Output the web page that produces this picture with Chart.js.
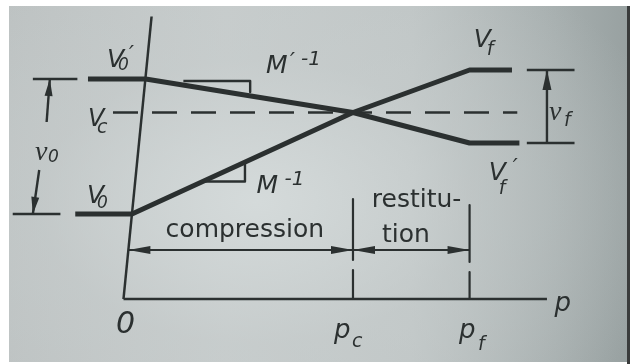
<!DOCTYPE html>
<html>
<head>
<meta charset="utf-8">
<script src="https://cdn.jsdelivr.net/npm/chart.js@4/dist/chart.umd.min.js"></script>
<style>
  html, body { margin: 0; padding: 0; background: #fff; }
  #wrap { position: relative; width: 630px; height: 364px; overflow: hidden; }
  #paper {
    position: absolute; left: 9px; top: 6px; width: 619px; height: 356px;
    background:
      radial-gradient(ellipse 70% 80% at 40% 55%, rgba(214,220,220,0.9) 0%, rgba(200,206,206,0.5) 50%, rgba(160,168,168,0) 100%),
      linear-gradient(90deg, #bcc1c1 0%, #c6cbcb 35%, #bfc5c5 65%, #a7afaf 88%, #98a1a1 100%);
  }
  #edge { position: absolute; left: 627px; top: 6px; width: 3px; height: 358px; background: #3a3c3c; }
  canvas { position: absolute; left: 0; top: 0; }
</style>
</head>
<body>
<div id="wrap">
  <div id="paper"></div>
  <div id="edge"></div>
  <canvas id="chart" width="630" height="364"></canvas>
</div>
<script>
// impulse p along x, velocities along y
const P_C = 2.03;   // end of compression
const P_F = 3.13;   // end of restitution

const V0 = 1.0, V0P = 3.70, VC = 3.03, VF = 3.88, VFP = 2.42;

// body V : V0 -> Vc -> Vf
const pV  = [-0.59, -0.055, P_C, P_F, 3.53];
const vV  = [V0, V0, VC, VF, VF];
// body V' : V0' -> Vc -> Vf'
const pVP = [-0.47, 0.074, P_C, P_F, 3.60];
const vVP = [V0P, V0P, VC, VFP, VFP];

// dashed Vc level
const pVc = [-0.234, 3.58];

// axes (the vertical one leans in the figure)
const axisP = [0.13, -0.135];
const axisV = [4.95, -0.70];
const pAxisEnd = 3.86;

// compression / restitution arrows
const ARROW_V = 0.28;
const ARROW_START = -0.089;
const pcTick = [[1.30, 0.08], [-0.12, -0.70]];
const pfTick = [[1.18, 0.04], [-0.16, -0.70]];

// slope triangles M'^-1 and M^-1
const triTopP = [0.43, 1.06, 1.06];
const triTopV = [3.66, 3.66, 3.44];
const triLowP = [0.618, 1.011, 1.011];
const triLowV = [1.65, 1.65, 2.04];

// v0 dimension (left) and vf dimension (right)
const dim0P = [-0.83, -0.86, -0.93, -0.99];
const dim0V = [V0P, 2.84, 1.88, V0];
const dim0TickTop = [-0.99, -0.57];
const dim0TickLow = [-1.18, -0.73];
const dimFP = 3.86;
const dimFTick = [3.67, 4.12];

const ink = '#2b3030';

function seg(xs, ys, w, dash) {
  return {
    data: xs.map((x, i) => ({ x: x, y: ys[i] })),
    showLine: true,
    borderColor: ink,
    borderWidth: w,
    borderDash: dash || [],
    pointRadius: 0,
    fill: false,
    tension: 0,
    borderCapStyle: 'butt',
    borderJoinStyle: 'round'
  };
}

const datasets = [
  seg(pV, vV, 5),
  seg(pVP, vVP, 5),
  seg(pVc, [VC, VC], 2.5, [25, 14]),
  seg(axisP, axisV, 2.5),
  seg([axisP[1], pAxisEnd], [axisV[1], axisV[1]], 2.5),
  seg([ARROW_START, P_C], [ARROW_V, ARROW_V], 2.2),
  seg([P_C, P_F], [ARROW_V, ARROW_V], 2.2),
  seg([P_C, P_C], pcTick[0], 2.2),
  seg([P_C, P_C], pcTick[1], 2.2),
  seg([P_F, P_F], pfTick[0], 2.2),
  seg([P_F, P_F], pfTick[1], 2.2),
  seg(triTopP, triTopV, 2.4),
  seg(triLowP, triLowV, 2.4),
  seg(dim0P.slice(0, 2), dim0V.slice(0, 2), 2.4),
  seg(dim0P.slice(2), dim0V.slice(2), 2.4),
  seg(dim0TickTop, [V0P, V0P], 2.4),
  seg(dim0TickLow, [V0, V0], 2.4),
  seg([dimFP, dimFP], [VFP, VF], 2.4),
  seg(dimFTick, [VF, VF], 2.4),
  seg(dimFTick, [VFP, VFP], 2.4)
];

// arrow heads: [tail p, tail v, tip p, tip v, length, half width]
const heads = [
  [P_C, ARROW_V, ARROW_START, ARROW_V, 22, 4],
  [ARROW_START, ARROW_V, P_C, ARROW_V, 22, 4],
  [P_F, ARROW_V, P_C, ARROW_V, 22, 4],
  [P_C, ARROW_V, P_F, ARROW_V, 22, 4],
  [dim0P[1], dim0V[1], dim0P[0], dim0V[0], 17, 4],
  [dim0P[2], dim0V[2], dim0P[3], dim0V[3], 17, 4],
  [dimFP, VFP, dimFP, VF, 20, 4.5]
];

const SANS = '"DejaVu Sans"';
const SERIF = '"Liberation Serif"';
// each part: [text, size, dx, dy, family]
const labels = [
  { p: -0.29, v: 3.94, parts: [['V', 25, 0, 0], ['0', 17, 11, 3], ['\u2032', 22, 22, -6]] },
  { p: -0.47, v: 2.76, parts: [['V', 24, 0, 0], ['c', 19, 9, 7]] },
  { p: -0.48, v: 1.22, parts: [['V', 25, 0, 0], ['0', 17, 10, 5]] },
  { p: 3.17, v: 4.34, parts: [['V', 25, 0, 0], ['f', 19, 13, 8]] },
  { p: 3.31, v: 1.68, parts: [['V', 25, 0, 0], ['f', 19, 10, 14], ['\u2032', 22, 24, -6]] },
  { p: 1.21, v: 3.82, parts: [['M', 25, 0, 0], ['\u2032', 22, 24, -5], ['-1', 20, 35, -8]] },
  { p: 1.12, v: 1.42, parts: [['M', 25, 0, 0], ['-1', 20, 28, -8]] },
  { p: -0.97, v: 2.08, parts: [['v', 28, 0, 0, SERIF], ['0', 17, 13, 2]] },
  { p: 3.88, v: 2.88, parts: [['v', 28, 0, 0, SERIF], ['f', 19, 15, 6]] },
  { p: -0.13, v: -1.38, parts: [['0', 30, -8, 0]] },
  { p: 1.85, v: -1.48, parts: [['p', 26, 0, 0], ['c', 19, 18, 9]] },
  { p: 3.03, v: -1.48, parts: [['p', 26, 0, 0], ['f', 19, 19, 12]] },
  { p: 3.93, v: -0.94, parts: [['p', 26, 0, 0]] }
];
const words = [
  { p: 1.01, v: 0.54, text: 'compression' },
  { p: 2.63, v: 1.14, text: 'restitu-' },
  { p: 2.53, v: 0.44, text: 'tion' }
];

const drawExtras = {
  id: 'drawExtras',
  afterDatasetsDraw(chart) {
    const ctx = chart.ctx;
    const sx = chart.scales.x, sy = chart.scales.y;
    ctx.save();
    ctx.fillStyle = ink;

    heads.forEach(h => {
      const x0 = sx.getPixelForValue(h[0]), y0 = sy.getPixelForValue(h[1]);
      const x1 = sx.getPixelForValue(h[2]), y1 = sy.getPixelForValue(h[3]);
      const d = Math.hypot(x1 - x0, y1 - y0);
      const ux = (x1 - x0) / d, uy = (y1 - y0) / d;
      const bx = x1 - ux * h[4], by = y1 - uy * h[4];
      ctx.beginPath();
      ctx.moveTo(x1, y1);
      ctx.lineTo(bx - uy * h[5], by + ux * h[5]);
      ctx.lineTo(bx + uy * h[5], by - ux * h[5]);
      ctx.closePath();
      ctx.fill();
    });

    ctx.textBaseline = 'alphabetic';
    labels.forEach(l => {
      const x = sx.getPixelForValue(l.p), y = sy.getPixelForValue(l.v);
      l.parts.forEach(pt => {
        ctx.textAlign = 'left';
        ctx.font = 'italic ' + pt[1] + 'px ' + (pt[4] || SANS);
        ctx.fillText(pt[0], x + pt[2], y + pt[3]);
      });
    });

    ctx.font = '25px ' + SANS;
    ctx.textAlign = 'center';
    words.forEach(w => {
      ctx.fillText(w.text, sx.getPixelForValue(w.p), sy.getPixelForValue(w.v));
    });
    ctx.restore();
  }
};

new Chart(document.getElementById('chart').getContext('2d'), {
  type: 'scatter',
  data: { datasets: datasets },
  options: {
    responsive: false,
    animation: false,
    layout: { padding: 0 },
    plugins: { legend: { display: false }, tooltip: { enabled: false } },
    scales: {
      x: { type: 'linear', display: false, min: -1.3, max: -1.3 + 630 / 106 },
      y: { type: 'linear', display: false, min: -2.0, max: 5.28 }
    }
  },
  plugins: [drawExtras]
});
</script>
</body>
</html>
